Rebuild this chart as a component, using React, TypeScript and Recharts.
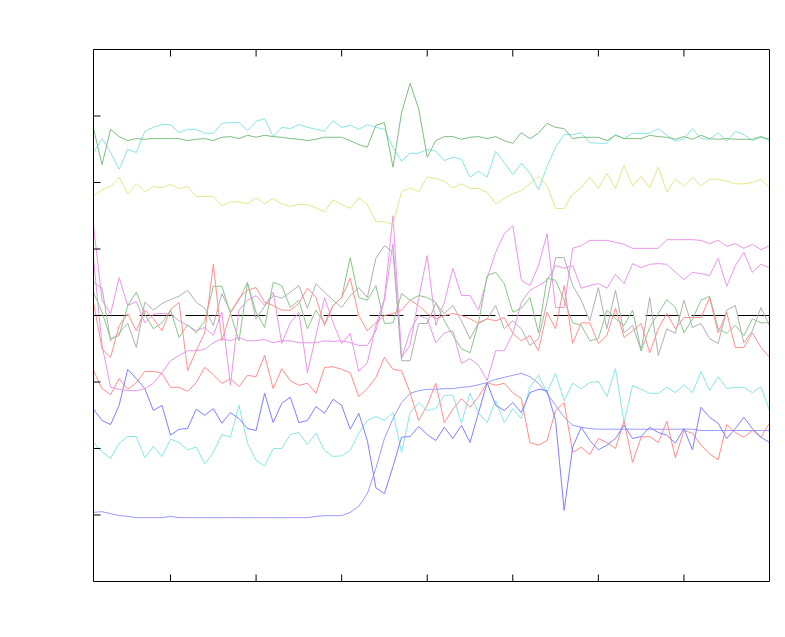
import React from 'react';
import { LineChart, Line, XAxis, YAxis, ReferenceLine } from 'recharts';

const sampleIndex: number[] = Array.from({ length: 80 }, (_, i) => i + 1);
const xTicks = [10, 20, 30, 40, 50, 60, 70];
const yTicks = [-3, -2, -1, 0, 1, 2, 3];

const greenTop = [2.81,2.27,2.80,2.69,2.63,2.66,2.65,2.66,2.66,2.66,
 2.66,2.63,2.65,2.66,2.63,2.68,2.69,2.66,2.71,2.68,
 2.71,2.69,2.68,2.66,2.65,2.63,2.65,2.68,2.68,2.68,
 2.63,2.57,2.53,2.86,2.90,2.23,3.05,3.49,3.11,2.38,
 2.63,2.69,2.69,2.65,2.68,2.69,2.66,2.69,2.63,2.59,
 2.75,2.66,2.74,2.89,2.83,2.81,2.66,2.68,2.68,2.68,
 2.63,2.71,2.66,2.66,2.66,2.71,2.69,2.68,2.65,2.69,
 2.65,2.71,2.66,2.65,2.66,2.65,2.65,2.65,2.69,2.65];

const cyanTop = [2.45,2.66,2.45,2.20,2.50,2.45,2.77,2.83,2.87,2.87,
 2.75,2.80,2.80,2.74,2.74,2.89,2.90,2.90,2.78,2.92,
 2.96,2.69,2.83,2.81,2.87,2.83,2.80,2.77,2.93,2.83,
 2.86,2.80,2.87,2.83,2.80,2.53,2.32,2.44,2.44,2.50,
 2.47,2.33,2.38,2.35,2.08,2.17,2.08,2.47,2.30,2.12,
 2.29,2.14,1.89,2.24,2.53,2.72,2.72,2.75,2.60,2.59,
 2.59,2.72,2.66,2.74,2.74,2.74,2.81,2.71,2.62,2.66,
 2.81,2.66,2.65,2.75,2.62,2.77,2.72,2.63,2.68,2.63];

const yellow = [1.80,1.89,1.94,2.08,1.83,1.98,1.86,1.94,1.92,1.97,
 1.91,1.94,1.79,1.79,1.79,1.65,1.71,1.71,1.68,1.77,
 1.68,1.76,1.68,1.64,1.67,1.67,1.62,1.56,1.74,1.67,
 1.61,1.77,1.67,1.41,1.41,1.37,1.86,1.92,1.86,2.08,
 2.06,2.02,1.92,1.98,1.91,1.91,1.85,1.68,1.76,1.83,
 1.88,1.98,2.09,1.95,1.61,1.61,1.83,1.92,2.08,1.91,
 2.14,1.91,2.26,1.95,2.09,1.92,2.23,1.86,2.05,1.94,
 2.08,1.95,2.05,2.05,2.02,1.98,1.98,2.00,2.05,1.91];

const violetHigh = [1.35,0.23,0.03,0.57,0.15,0.21,-0.11,0.02,0.03,0.02,
 -0.08,-0.15,-0.23,-0.18,-0.30,0.05,-1.05,0.08,0.23,0.30,
 0.15,0.35,-0.42,-0.11,0.05,-0.86,-0.30,0.27,-0.11,-0.42,
 -0.27,-0.84,-0.71,-0.15,0.26,1.50,-0.63,-0.45,0.26,0.90,
 -0.15,0.20,0.71,0.30,0.30,0.08,0.56,0.95,1.23,1.35,
 0.53,0.45,0.75,1.23,0.12,0.12,1.01,1.05,1.13,1.13,
 1.13,1.10,1.07,1.01,1.01,1.01,1.01,1.14,1.14,1.14,
 1.14,1.13,1.08,1.13,1.04,1.08,1.01,1.07,0.99,1.05];

const violetLow = [0.86,-0.45,-1.08,-1.11,-1.13,-1.13,-1.10,-1.02,-0.86,-0.68,
 -0.60,-0.53,-0.53,-0.51,-0.41,-0.35,-0.38,-0.33,-0.38,-0.38,
 -0.36,-0.41,-0.38,-0.38,-0.41,-0.41,-0.41,-0.38,-0.39,-0.38,
 -0.41,-0.45,-0.45,-0.23,0.23,1.08,-0.65,-0.23,0.00,-0.05,
 -0.41,-0.26,-0.23,-0.72,-0.65,-0.75,-0.98,-0.53,-0.53,-0.27,
 0.20,0.38,0.45,0.53,0.75,0.71,0.75,0.41,0.45,0.48,
 0.41,0.62,0.48,0.78,0.72,0.77,0.78,0.77,0.65,0.54,
 0.65,0.63,0.60,0.86,0.44,0.75,0.95,0.65,0.77,0.72];

const gray = [0.50,0.41,-0.38,-0.26,-0.12,-0.48,0.20,0.08,0.18,0.24,
 0.29,0.38,0.20,0.11,-0.15,0.33,0.06,0.23,0.50,-0.05,
 0.14,0.30,0.26,0.35,0.45,0.11,0.48,0.35,0.23,0.12,
 0.30,0.42,0.27,0.86,1.05,0.95,-0.68,-0.68,-0.12,-0.12,
 0.18,0.03,0.15,-0.08,-0.35,-0.11,-0.05,0.15,-0.20,-0.08,
 -0.20,-0.45,-0.35,0.20,0.87,0.87,0.45,0.23,-0.08,0.42,
 -0.20,0.38,-0.26,-0.15,-0.53,0.27,-0.60,-0.20,-0.27,0.23,
 -0.18,-0.12,-0.35,-0.42,0.08,0.15,-0.41,-0.23,0.12,-0.15];

const greenMid = [0.35,0.05,-0.35,-0.30,0.15,0.35,0.02,-0.20,-0.11,0.08,
 -0.33,-0.14,-0.26,-0.08,0.44,0.44,0.03,-0.38,0.48,0.05,
 -0.18,0.50,0.45,0.12,0.23,-0.20,0.08,-0.12,0.15,0.27,
 0.87,0.27,0.23,0.45,-0.12,-0.11,0.33,0.23,0.30,0.27,
 0.20,-0.08,-0.30,-0.50,-0.56,-0.11,0.60,0.65,0.48,0.05,
 0.11,0.27,-0.26,0.56,0.53,0.23,-0.11,-0.15,-0.38,-0.35,
 0.08,-0.05,-0.15,0.08,-0.53,-0.18,0.03,0.24,0.12,-0.26,
 -0.05,0.23,0.29,-0.20,-0.27,-0.15,-0.30,-0.05,-0.11,-0.11];

const redMid = [0.20,-0.50,-0.63,-0.15,0.03,-0.23,0.08,-0.05,-0.23,0.09,
 0.20,-0.83,-0.53,-0.26,0.77,-0.38,0.03,0.26,0.38,0.42,
 0.20,0.15,0.08,0.08,0.18,0.41,0.27,-0.15,0.15,0.27,
 0.56,0.00,-0.23,-0.11,0.00,0.03,0.08,0.23,0.15,0.03,
 -0.05,0.00,0.03,0.00,-0.05,-0.12,-0.05,-0.08,-0.03,-0.27,
 -0.38,-0.30,-0.53,0.05,-0.20,0.45,-0.42,-0.11,-0.11,-0.42,
 -0.30,0.11,-0.33,-0.23,-0.12,-0.56,-0.20,0.03,-0.20,-0.03,
 -0.03,-0.03,0.27,-0.26,0.05,-0.48,-0.48,-0.26,-0.48,-0.63];

const redLow = [-0.83,-1.10,-1.19,-0.95,-1.11,-1.01,-0.84,-0.84,-0.87,-1.08,
 -1.08,-1.14,-1.01,-0.78,-0.89,-1.02,-0.95,-1.07,-0.90,-0.92,
 -0.60,-1.10,-0.80,-0.98,-1.05,-1.02,-1.17,-0.78,-0.77,-0.81,
 -0.86,-1.22,-1.10,-0.93,-0.63,-0.81,-0.83,-1.16,-1.58,-1.35,
 -1.02,-1.61,-1.41,-1.25,-1.38,-1.22,-1.01,-1.05,-1.02,-1.16,
 -1.25,-1.91,-1.95,-1.88,-1.43,-1.31,-2.06,-1.98,-2.09,-1.85,
 -1.91,-2.00,-1.58,-2.21,-1.83,-1.82,-1.91,-1.59,-2.14,-1.73,
 -1.77,-1.95,-2.08,-2.17,-1.64,-1.76,-1.83,-1.73,-1.83,-1.62];

const blueNoisy = [-1.41,-1.58,-1.64,-1.35,-0.81,-0.95,-1.10,-1.43,-1.35,-1.80,
 -1.71,-1.70,-1.41,-1.50,-1.40,-1.62,-1.46,-1.55,-1.70,-1.73,
 -1.17,-1.61,-1.32,-1.23,-1.61,-1.58,-1.37,-1.47,-1.26,-1.35,
 -1.71,-1.47,-1.88,-2.59,-2.68,-2.27,-1.83,-1.82,-1.67,-1.79,
 -1.88,-1.68,-1.85,-1.65,-1.91,-1.46,-1.01,-1.35,-1.43,-1.31,
 -1.46,-1.16,-1.11,-1.13,-1.58,-2.93,-1.98,-1.68,-1.88,-2.02,
 -1.95,-1.85,-1.65,-1.85,-1.82,-1.68,-1.76,-1.80,-1.92,-1.70,
 -2.02,-1.38,-1.53,-1.62,-1.85,-1.70,-1.53,-1.70,-1.83,-1.91];

const cyanLow = [-1.91,-2.05,-2.15,-1.92,-1.82,-1.82,-2.14,-1.97,-2.12,-1.86,
 -1.91,-2.02,-1.98,-2.23,-2.06,-1.79,-1.83,-1.35,-1.92,-2.18,
 -2.26,-2.00,-2.00,-1.79,-1.76,-1.94,-1.77,-2.03,-2.12,-2.11,
 -2.03,-1.77,-1.58,-1.52,-1.58,-1.46,-2.06,-1.46,-1.31,-1.43,
 -1.40,-1.20,-1.20,-1.62,-1.17,-1.47,-1.61,-1.28,-1.61,-1.40,
 -1.55,-1.08,-0.90,-1.16,-0.87,-1.28,-1.02,-1.10,-1.01,-0.99,
 -1.22,-0.80,-1.61,-1.05,-1.11,-1.17,-1.17,-1.08,-1.16,-1.04,
 -1.16,-0.84,-1.13,-0.92,-1.10,-1.08,-1.08,-1.16,-1.07,-1.43];

const blueSmooth = [-2.96,-2.95,-2.98,-3.01,-3.02,-3.04,-3.04,-3.04,-3.04,-3.02,
 -3.04,-3.04,-3.04,-3.04,-3.04,-3.04,-3.04,-3.04,-3.04,-3.04,
 -3.04,-3.04,-3.04,-3.04,-3.04,-3.04,-3.02,-3.01,-3.01,-3.01,
 -2.96,-2.87,-2.68,-2.30,-1.85,-1.55,-1.31,-1.17,-1.13,-1.11,
 -1.11,-1.10,-1.10,-1.08,-1.07,-1.04,-1.01,-0.96,-0.93,-0.90,
 -0.87,-0.92,-1.02,-1.17,-1.35,-1.53,-1.65,-1.68,-1.70,-1.71,
 -1.71,-1.71,-1.71,-1.71,-1.71,-1.71,-1.71,-1.71,-1.71,-1.71,
 -1.71,-1.73,-1.73,-1.73,-1.73,-1.73,-1.73,-1.73,-1.73,-1.73];

const series = [
  { key: 'blueSmooth', values: blueSmooth, color: '#9a9aff' },
  { key: 'cyanLow', values: cyanLow, color: '#8ae6e6' },
  { key: 'redLow', values: redLow, color: '#ff8c8c' },
  { key: 'blueNoisy', values: blueNoisy, color: '#8080ff' },
  { key: 'violetLow', values: violetLow, color: '#e699ea' },
  { key: 'violetHigh', values: violetHigh, color: '#ea96ea' },
  { key: 'gray', values: gray, color: '#b0b0b0' },
  { key: 'greenMid', values: greenMid, color: '#8cc68c' },
  { key: 'redMid', values: redMid, color: '#ff9090' },
  { key: 'yellow', values: yellow, color: '#e6e68a' },
  { key: 'cyanTop', values: cyanTop, color: '#88e4e4' },
  { key: 'greenTop', values: greenTop, color: '#80bd80' },
];

const data = sampleIndex.map((x, i) => {
  const row: Record<string, number> = { x };
  series.forEach((s) => {
    row[s.key] = s.values[i];
  });
  return row;
});

const NoLabel = () => <g />;

const axisCommon = {
  stroke: '#000',
  tick: NoLabel,
  tickLine: { stroke: '#000', strokeWidth: 1 },
  axisLine: { stroke: '#000', strokeWidth: 1 },
  tickSize: 7,
  mirror: true,
};

export default function App() {
  return (
    <div style={{ position: 'absolute', left: 0, top: 0, width: 785, height: 637, background: '#fff' }}>
      <LineChart
        width={785}
        height={637}
        data={data}
        margin={{ top: 49.5, right: 15.5, bottom: 55.5, left: 93.5 }}
      >
        <XAxis
          {...axisCommon}
          xAxisId="bottom"
          dataKey="x"
          type="number"
          domain={[1, 80]}
          ticks={xTicks}
          orientation="bottom"
          height={0.01}
        />
        <XAxis
          {...axisCommon}
          xAxisId="top"
          dataKey="x"
          type="number"
          domain={[1, 80]}
          ticks={xTicks}
          orientation="top"
          height={0.01}
        />
        <YAxis
          {...axisCommon}
          yAxisId="left"
          type="number"
          domain={[-4, 4]}
          ticks={yTicks}
          orientation="left"
          width={0.01}
        />
        <YAxis
          {...axisCommon}
          yAxisId="right"
          type="number"
          domain={[-4, 4]}
          ticks={yTicks}
          orientation="right"
          width={0.01}
        />
        <ReferenceLine
          xAxisId="bottom"
          yAxisId="left"
          y={0}
          stroke="#000"
          strokeWidth={1}
          strokeDasharray="34 12"
        />
        {series.map((s) => (
          <Line
            key={s.key}
            xAxisId="bottom"
            yAxisId="left"
            type="linear"
            dataKey={s.key}
            stroke={s.color}
            strokeWidth={1}
            dot={false}
            activeDot={false}
            isAnimationActive={false}
          />
        ))}
      </LineChart>
    </div>
  );
}
